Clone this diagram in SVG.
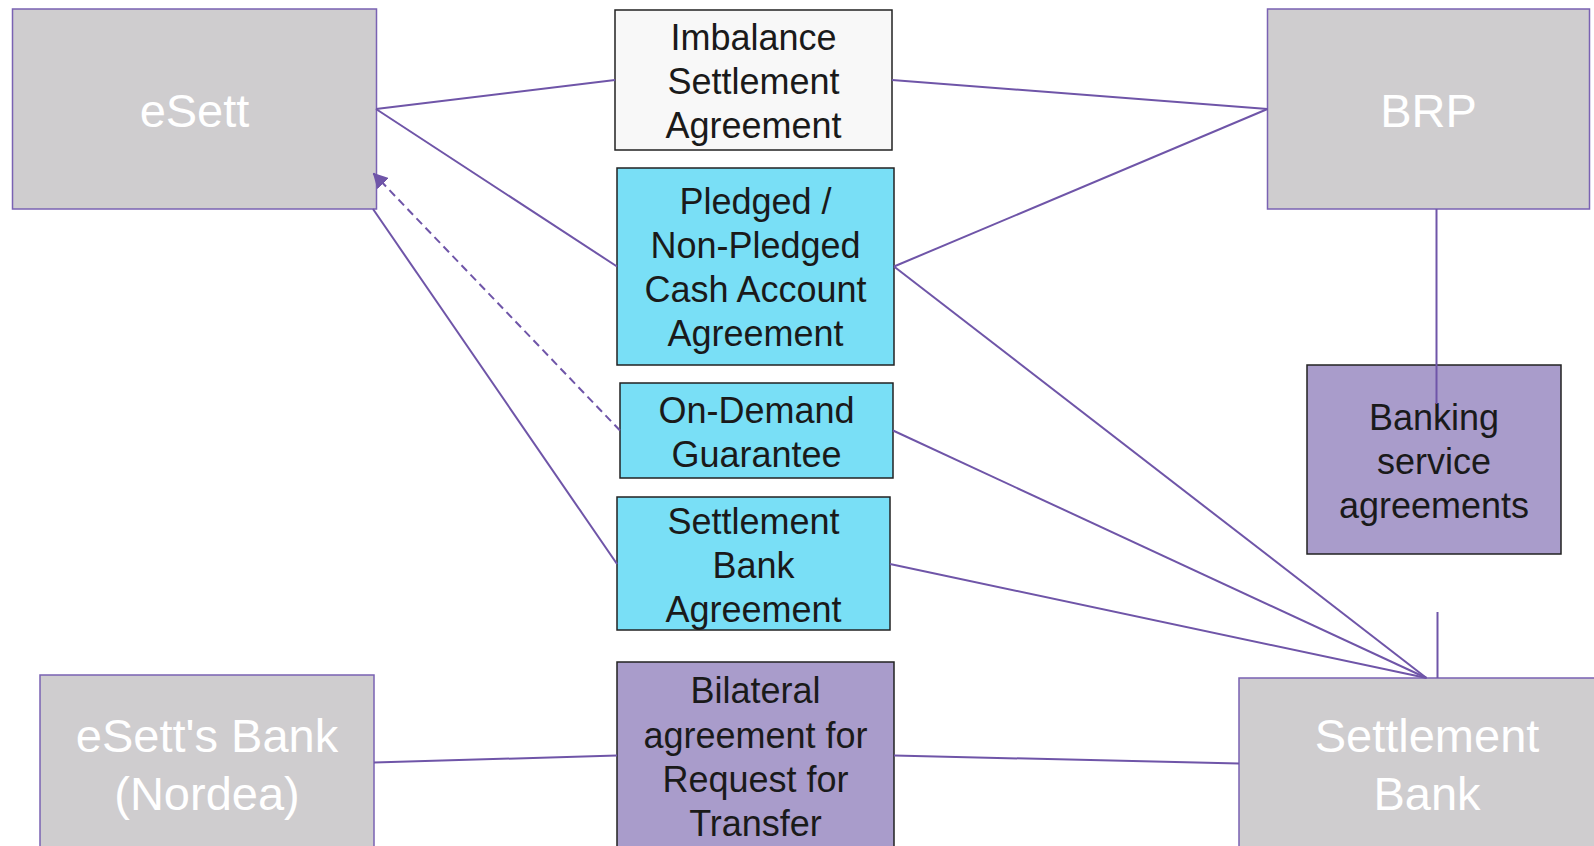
<svg xmlns="http://www.w3.org/2000/svg" width="1594" height="846" viewBox="0 0 1594 846">
<style>
  .party { fill: #cfcdcf; stroke: #7a62b3; stroke-width: 1.5; }
  .plain { fill: #f8f8f8; stroke: #222; stroke-width: 1.5; }
  .cyan { fill: #79dff6; stroke: #222; stroke-width: 1.5; }
  .lilac { fill: #a99ccb; stroke: #222; stroke-width: 1.5; }
  .pt { font-family: "Liberation Sans", Arial, sans-serif; font-size: 47px; fill: #ffffff; text-anchor: middle; }
  .at { font-family: "Liberation Sans", Arial, sans-serif; font-size: 36px; fill: #1a1a1a; text-anchor: middle; }
  .conn { stroke: #6f55a8; stroke-width: 2; fill: none; }
  .dash { stroke-dasharray: 8 5; }
</style>
<defs>
  <marker id="arrow" viewBox="0 0 15 16" refX="14" refY="8" markerWidth="15" markerHeight="16" markerUnits="userSpaceOnUse" orient="auto">
    <path d="M0,0 L15,8 L0,16 z" fill="#6f55a8"/>
  </marker>
</defs>
<rect width="1594" height="846" fill="#ffffff"/>

<g id="esett">
  <rect class="party" x="12.5" y="9" width="364" height="200"/>
  <text class="pt" x="194.5" y="127">eSett</text>
</g>
<g id="brp">
  <rect class="party" x="1267.5" y="9" width="322" height="200"/>
  <text class="pt" x="1428.5" y="127">BRP</text>
</g>
<g id="esett-bank">
  <rect class="party" x="40" y="675" width="334" height="220"/>
  <text class="pt" x="207" y="752">eSett's Bank</text>
  <text class="pt" x="207" y="810">(Nordea)</text>
</g>
<g id="settlement-bank">
  <rect class="party" x="1239" y="678" width="376" height="220"/>
  <text class="pt" x="1427" y="752">Settlement</text>
  <text class="pt" x="1427" y="810">Bank</text>
</g>

<g id="imbalance-agreement">
  <rect class="plain" x="615" y="10" width="277" height="140"/>
  <text class="at" x="753.5" y="50">Imbalance</text>
  <text class="at" x="753.5" y="94">Settlement</text>
  <text class="at" x="753.5" y="138">Agreement</text>
</g>
<g id="pledged-agreement">
  <rect class="cyan" x="617" y="168" width="277" height="197"/>
  <text class="at" x="755.5" y="214">Pledged /</text>
  <text class="at" x="755.5" y="258">Non-Pledged</text>
  <text class="at" x="755.5" y="302">Cash Account</text>
  <text class="at" x="755.5" y="346">Agreement</text>
</g>
<g id="on-demand-guarantee">
  <rect class="cyan" x="620" y="383" width="273" height="95"/>
  <text class="at" x="756.5" y="423">On-Demand</text>
  <text class="at" x="756.5" y="467">Guarantee</text>
</g>
<g id="settlement-bank-agreement">
  <rect class="cyan" x="617" y="497" width="273" height="133"/>
  <text class="at" x="753.5" y="534">Settlement</text>
  <text class="at" x="753.5" y="578">Bank</text>
  <text class="at" x="753.5" y="622">Agreement</text>
</g>
<g id="banking-service-agreements">
  <rect class="lilac" x="1307" y="365" width="254" height="189"/>
  <text class="at" x="1434" y="430">Banking</text>
  <text class="at" x="1434" y="474">service</text>
  <text class="at" x="1434" y="518">agreements</text>
</g>
<g id="bilateral-agreement">
  <rect class="lilac" x="617" y="662" width="277" height="220"/>
  <text class="at" x="755.5" y="703">Bilateral</text>
  <text class="at" x="755.5" y="748">agreement for</text>
  <text class="at" x="755.5" y="792">Request for</text>
  <text class="at" x="755.5" y="836">Transfer</text>
</g>

<g id="connectors">
  <line class="conn" x1="376" y1="109" x2="615" y2="80"/>
  <line class="conn" x1="892" y1="80" x2="1267.5" y2="109"/>
  <line class="conn" x1="376" y1="109" x2="617" y2="266.5"/>
  <line class="conn" x1="894" y1="266.5" x2="1267.5" y2="109"/>
  <line class="conn" x1="894" y1="266.5" x2="1426.5" y2="678"/>
  <line class="conn" x1="893" y1="430.5" x2="1426.5" y2="678"/>
  <line class="conn" x1="890" y1="564" x2="1426.5" y2="678"/>
  <line class="conn" x1="373" y1="209" x2="617" y2="564"/>
  <line class="conn dash" x1="620" y1="430.5" x2="373.5" y2="173.5" marker-end="url(#arrow)"/>
  <line class="conn" x1="1436.5" y1="209" x2="1436.5" y2="404"/>
  <line class="conn" x1="1437.5" y1="612" x2="1437.5" y2="678"/>
  <line class="conn" x1="374" y1="762.5" x2="617" y2="755.5"/>
  <line class="conn" x1="894" y1="755.5" x2="1239" y2="763.5"/>
</g>
</svg>
